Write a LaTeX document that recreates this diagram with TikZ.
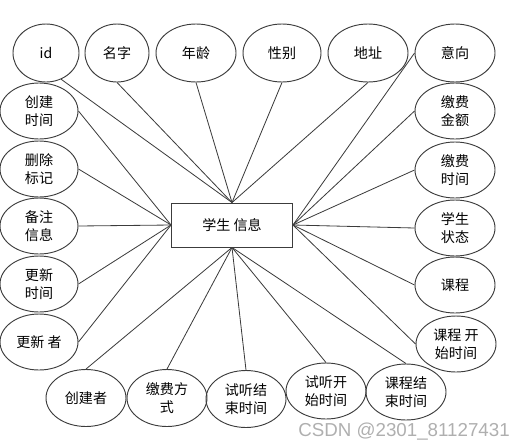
\documentclass[tikz,border=0pt]{standalone}
\usepackage{fontspec}
\setmainfont{Noto Sans CJK SC}
\newfontfamily\markFont{Liberation Sans}
\usetikzlibrary{shapes.geometric}
\definecolor{lineColor}{RGB}{60,60,60}
\definecolor{markColor}{RGB}{175,175,175}
\tikzstyle{erd} = [x = 0.03cm, y = -0.03cm]
\tikzstyle{attrStyle} = [ellipse, draw=lineColor, line width=0.8pt, inner sep=0pt, minimum width=2.4cm, minimum height=1.68cm, align=center, font=\fontsize{12}{15}\selectfont]
\tikzstyle{entityStyle} = [rectangle, draw=lineColor, line width=0.8pt, minimum width=3.63cm, minimum height=1.32cm, font=\fontsize{12}{15}\selectfont]
\tikzstyle{linkStyle} = [color=lineColor, line width=0.7pt]
\tikzstyle{markStyle} = [color=markColor, font=\markFont\fontsize{16}{18}\selectfont, inner sep=0pt]

\begin{document}
\begin{tikzpicture}[erd]
  \useasboundingbox (0,0) rectangle (517,446);
  % entity
  \node [entityStyle] (student) at (232,225) {学生 信息};
  % top row
  \node [attrStyle, minimum width=1.98cm, minimum height=1.74cm] (id) at (46,53) {id};
  \node [attrStyle, minimum width=1.92cm, minimum height=1.74cm] (name) at (117,53) {名字};
  \node [attrStyle, minimum height=1.74cm] (age) at (196,53) {年龄};
  \node [attrStyle, minimum width=2.34cm, minimum height=1.74cm] (sex) at (282,53) {性别};
  \node [attrStyle, minimum height=1.74cm] (addr) at (368,53) {地址};
  \node [attrStyle, minimum height=1.74cm] (intent) at (455,53) {意向};
  % left column
  \node [attrStyle, minimum width=2.34cm] (ctime) at (39,111) {创建\\时间};
  \node [attrStyle, minimum width=2.34cm] (delflag) at (39,169) {删除\\标记};
  \node [attrStyle, minimum width=2.34cm] (remark) at (39,226) {备注\\信息};
  \node [attrStyle, minimum width=2.34cm] (utime) at (39,284) {更新\\时间};
  \node [attrStyle, minimum width=2.34cm] (updater) at (39,342) {更新 者};
  % right column
  \node [attrStyle] (payamt) at (455,111) {缴费\\金额};
  \node [attrStyle] (paytime) at (455,170) {缴费\\时间};
  \node [attrStyle] (status) at (455,228) {学生\\状态};
  \node [attrStyle] (course) at (455,285) {课程};
  \node [attrStyle] (cstart) at (456,344) {课程 开\\始时间};
  % bottom row
  \node [attrStyle, minimum height=1.71cm] (creator) at (86,398) {创建者};
  \node [attrStyle, minimum height=1.71cm] (paymode) at (167,398) {缴费方\\式};
  \node [attrStyle, minimum height=1.71cm] (trialend) at (246,399) {试听结\\束时间};
  \node [attrStyle, minimum height=1.68cm] (trialstart) at (326,391) {试听开\\始时间};
  \node [attrStyle, minimum height=1.68cm] (cend) at (406,392) {课程结\\束时间};
  % links
  \draw [linkStyle] (id.300) -- (student.north);
  \foreach \attr in {name,age,sex,addr} {
    \draw [linkStyle] (\attr.south) -- (student.north);
  }
  \foreach \attr in {ctime,delflag,remark,utime,updater} {
    \draw [linkStyle] (\attr.east) -- (student.west);
  }
  \foreach \attr in {intent,payamt,paytime,status,course,cstart} {
    \draw [linkStyle] (\attr.west) -- (student.east);
  }
  \foreach \attr in {creator,paymode,trialend,trialstart,cend} {
    \draw [linkStyle] (\attr.north) -- (student.south);
  }
  % watermark
  \node [markStyle, anchor=base east] (mark) at (510,436) {CSDN @2301\_81127431};
\end{tikzpicture}
\end{document}
